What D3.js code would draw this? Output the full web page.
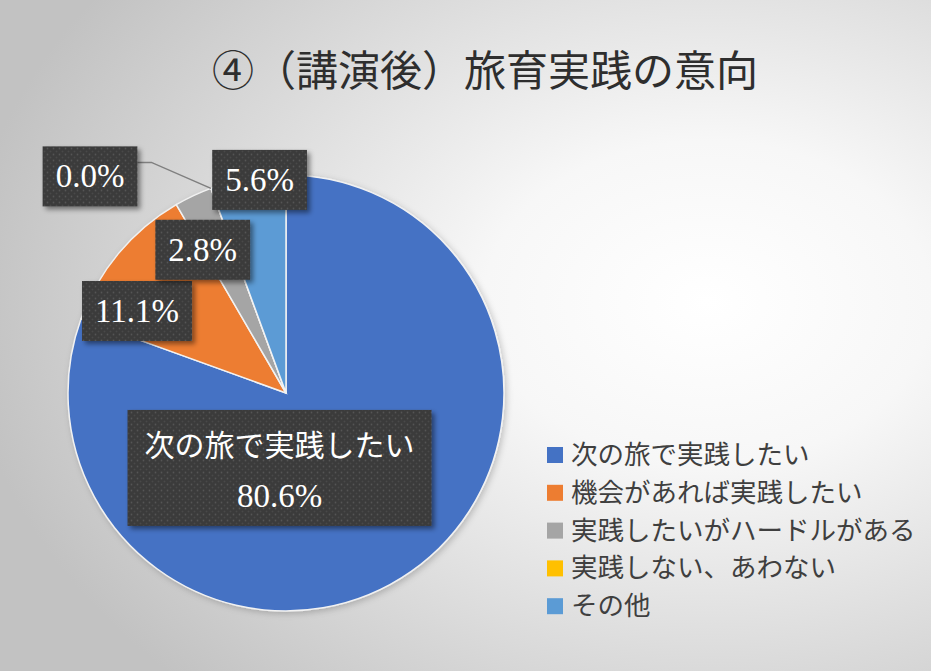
<!DOCTYPE html>
<html>
<head>
<meta charset="utf-8">
<script src="https://cdn.jsdelivr.net/npm/d3@7"></script>
<style>
  html, body { margin: 0; padding: 0; background: #fff; }
  svg { display: block; }
</style>
</head>
<body>
<div id="chart"></div>
<script>
// 旅育実践の意向 (講演後) pie chart
const title = "④（講演後）旅育実践の意向";
const categories = ["次の旅で実践したい", "機会があれば実践したい", "実践したいがハードルがある", "実践しない、あわない", "その他"];
const values = [80.6, 11.1, 2.8, 0.0, 5.6];
const colors = ["#4472C4", "#ED7D31", "#A5A5A5", "#FFC000", "#5B9BD5"];

// label placement: angle offset (deg) from slice middle, radius as fraction of pie radius
const labelLayout = [
    { da: 40, k: 0.345 },
    { da: -11, k: 0.78 },
    { da: -5, k: 0.76 },
    { da: -22, k: 1.34 },
    { da: 3, k: 0.985 }
];

const W = 931, H = 671;
const cx = 286, cy = 393, R = 218;
const jpFont = "Noto Sans CJK JP, Noto Sans, sans-serif";
const numFont = "Liberation Serif, Times New Roman, DejaVu Serif, serif";

const svg = d3.select("#chart").append("svg")
    .attr("width", W)
    .attr("height", H);

const defs = svg.append("defs");

const bg = defs.append("radialGradient")
    .attr("id", "bg")
    .attr("cx", "76%").attr("cy", "45%").attr("r", "80%");
bg.append("stop").attr("offset", "0%").attr("stop-color", "#ffffff");
bg.append("stop").attr("offset", "30%").attr("stop-color", "#f7f7f7");
bg.append("stop").attr("offset", "100%").attr("stop-color", "#c2c2c2");

// dotted texture in the label boxes
const pat = defs.append("pattern")
    .attr("id", "dots")
    .attr("width", 6).attr("height", 6)
    .attr("patternUnits", "userSpaceOnUse");
pat.append("rect").attr("width", 6).attr("height", 6).attr("fill", "#3a3a3a");
pat.append("circle").attr("cx", 1.5).attr("cy", 1.5).attr("r", 0.9).attr("fill", "#555");
pat.append("circle").attr("cx", 4.5).attr("cy", 4.5).attr("r", 0.9).attr("fill", "#4a4a4a");

const shadow = defs.append("filter").attr("id", "shadow")
    .attr("x", "-20%").attr("y", "-20%").attr("width", "150%").attr("height", "160%");
shadow.append("feDropShadow")
    .attr("dx", 3).attr("dy", 3).attr("stdDeviation", 2.5)
    .attr("flood-color", "#000").attr("flood-opacity", 0.45);

const pieShadow = defs.append("filter").attr("id", "pieShadow")
    .attr("x", "-10%").attr("y", "-10%").attr("width", "125%").attr("height", "125%");
pieShadow.append("feDropShadow")
    .attr("dx", 2).attr("dy", 2).attr("stdDeviation", 3)
    .attr("flood-color", "#000").attr("flood-opacity", 0.2);

svg.append("rect").attr("width", W).attr("height", H).attr("fill", "url(#bg)");

svg.append("text")
    .attr("x", 485)
    .attr("y", 86)
    .attr("text-anchor", "middle")
    .attr("font-family", jpFont)
    .attr("font-size", 42)
    .attr("fill", "#2e2e2e")
    .text(title);

const pie = d3.pie().sort(null).value(d => d)(values);
const arc = d3.arc().innerRadius(0).outerRadius(R);

const g = svg.append("g").attr("transform", `translate(${cx},${cy})`);

g.append("g")
    .attr("filter", "url(#pieShadow)")
    .selectAll("path.slice")
    .data(pie)
    .enter()
    .append("path")
    .attr("class", "slice")
    .attr("d", arc)
    .attr("fill", (d, i) => colors[i])
    .attr("stroke", "#f2f2f2")
    .attr("stroke-width", 1.5);

// labels
const labels = g.selectAll("g.lbl")
    .data(pie)
    .enter()
    .append("g")
    .attr("class", "lbl");

labels.each(function (d, i) {
    const sel = d3.select(this);
    const mid = (d.startAngle + d.endAngle) / 2 + labelLayout[i].da * Math.PI / 180;
    const [lx, ly] = d3.pointRadial(mid, R * labelLayout[i].k);
    const pct = d.data.toFixed(1) + "%";
    const big = i === 0;

    const box = sel.append("rect")
        .attr("fill", "url(#dots)")
        .attr("filter", "url(#shadow)");

    let w, h;
    if (big) {
        const t1 = sel.append("text")
            .attr("x", lx).attr("y", ly - 12)
            .attr("text-anchor", "middle")
            .attr("font-family", jpFont)
            .attr("font-size", 30)
            .attr("fill", "#fff")
            .text(categories[i]);
        sel.append("text")
            .attr("x", lx).attr("y", ly + 39)
            .attr("text-anchor", "middle")
            .attr("font-family", numFont)
            .attr("font-size", 33)
            .attr("fill", "#fff")
            .text(pct);
        w = t1.node().getComputedTextLength() + 34;
        h = 116;
    } else {
        const t = sel.append("text")
            .attr("x", lx).attr("y", ly + 11)
            .attr("text-anchor", "middle")
            .attr("font-family", numFont)
            .attr("font-size", 33)
            .attr("fill", "#fff")
            .text(pct);
        w = t.node().getComputedTextLength() + 26;
        h = 60;
    }
    box.attr("x", lx - w / 2).attr("y", ly - h / 2).attr("width", w).attr("height", h);

    // leader line for labels placed outside the pie
    if (labelLayout[i].k > 1.1) {
        const edge = d3.pointRadial(d.startAngle, R);
        const x0 = lx + w / 2, y0 = ly - h / 2 + 16;
        sel.insert("polyline", "rect")
            .attr("points", [[x0, y0], [x0 + 14, y0], edge].map(p => p.join(",")).join(" "))
            .attr("fill", "none")
            .attr("stroke", "#7f7f7f")
            .attr("stroke-width", 1.5);
    }
});

// legend
const legend = svg.append("g").attr("transform", "translate(547,455)");
const rows = legend.selectAll("g")
    .data(categories)
    .enter()
    .append("g")
    .attr("transform", (d, i) => `translate(0,${i * 37.8})`);
rows.append("rect")
    .attr("x", 0).attr("y", -8)
    .attr("width", 16).attr("height", 16)
    .attr("fill", (d, i) => colors[i]);
rows.append("text")
    .attr("x", 24).attr("y", 9)
    .attr("font-family", jpFont)
    .attr("font-size", 26.5)
    .attr("fill", "#3f3f3f")
    .text(d => d);
</script>
</body>
</html>
